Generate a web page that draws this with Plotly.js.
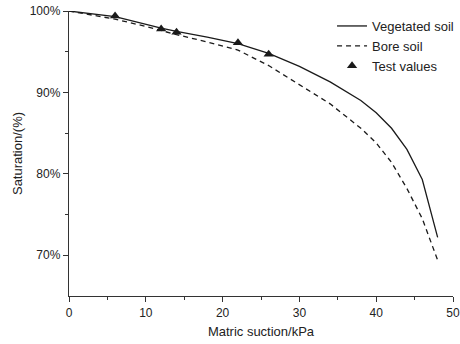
<!DOCTYPE html>
<html>
<head>
<meta charset="utf-8">
<script src="https://cdn.plot.ly/plotly-3.0.1.min.js"></script>
<style>html,body{margin:0;padding:0;background:#fff;}#chart{width:460px;height:344px;}</style>
</head>
<body>
<div id="chart"></div>
<script>
var vegX = [0, 6, 12, 14, 18, 22, 26, 30, 34, 38, 40, 42, 44, 46, 48];
var vegY = [100, 99.3, 97.9, 97.5, 96.8, 96.0, 94.8, 93.2, 91.3, 89.0, 87.5, 85.6, 83.0, 79.3, 72.2];
var boreX = [0, 6, 10, 14, 18, 22, 26, 30, 34, 38, 40, 42, 44, 46, 48];
var boreY = [100, 99.0, 98.1, 97.1, 96.2, 95.2, 93.3, 91.0, 88.6, 85.6, 83.8, 81.4, 78.2, 74.5, 69.4];
var testX = [6, 12, 14, 22, 26];
var testY = [99.4, 97.8, 97.4, 96.1, 94.7];
var yTickVals = [70, 80, 90, 100];
var yTickText = ["70%", "80%", "90%", "100%"];

var ink = "#1a1a1a";
var traces = [
  {x: vegX, y: vegY, mode: "lines", name: "Vegetated soil", line: {color: ink, width: 1.3}},
  {x: boreX, y: boreY, mode: "lines", name: "Bore soil", line: {color: ink, width: 1.3, dash: "5px,4px"}},
  {x: testX, y: testY, mode: "markers", name: "Test values", marker: {symbol: "triangle-up", size: 9, color: ink}}
];
var font = {family: "Liberation Sans, Arial, sans-serif", size: 12, color: "#222"};
var layout = {
  width: 460, height: 344,
  margin: {l: 69, r: 7, t: 11, b: 48, autoexpand: false},
  paper_bgcolor: "#fff", plot_bgcolor: "#fff",
  font: font,
  showlegend: true,
  legend: {x: 0.685, y: 1.0, xanchor: "left", yanchor: "top", bgcolor: "rgba(0,0,0,0)",
           font: {family: font.family, size: 13, color: "#222"}, tracegroupgap: 0, itemwidth: 30},
  xaxis: {
    range: [0, 50], showgrid: false, zeroline: false, showline: true, linecolor: "#333", linewidth: 1.2,
    ticks: "outside", tickvals: [0, 10, 20, 30, 40, 50], ticklen: 5, tickcolor: "#333",
    minor: {ticks: "outside", tickvals: [5, 15, 25, 35, 45], ticklen: 3, tickcolor: "#333"},
    title: {text: "Matric suction/kPa", font: {family: font.family, size: 13, color: "#222"}, standoff: 8},
    tickfont: {family: font.family, size: 12, color: "#222"}
  },
  yaxis: {
    range: [65, 100], showgrid: false, zeroline: false, showline: true, linecolor: "#333", linewidth: 1.2,
    ticks: "outside", tickvals: yTickVals, ticktext: yTickText, ticklen: 5, tickcolor: "#333",
    minor: {ticks: "outside", tickvals: [75, 85, 95], ticklen: 3, tickcolor: "#333"},
    title: {text: "Saturation/(%)", font: {family: font.family, size: 13, color: "#222"}, standoff: 4},
    tickfont: {family: font.family, size: 12, color: "#222"}
  }
};
Plotly.newPlot("chart", traces, layout, {displayModeBar: false, staticPlot: true});
</script>
</body>
</html>
